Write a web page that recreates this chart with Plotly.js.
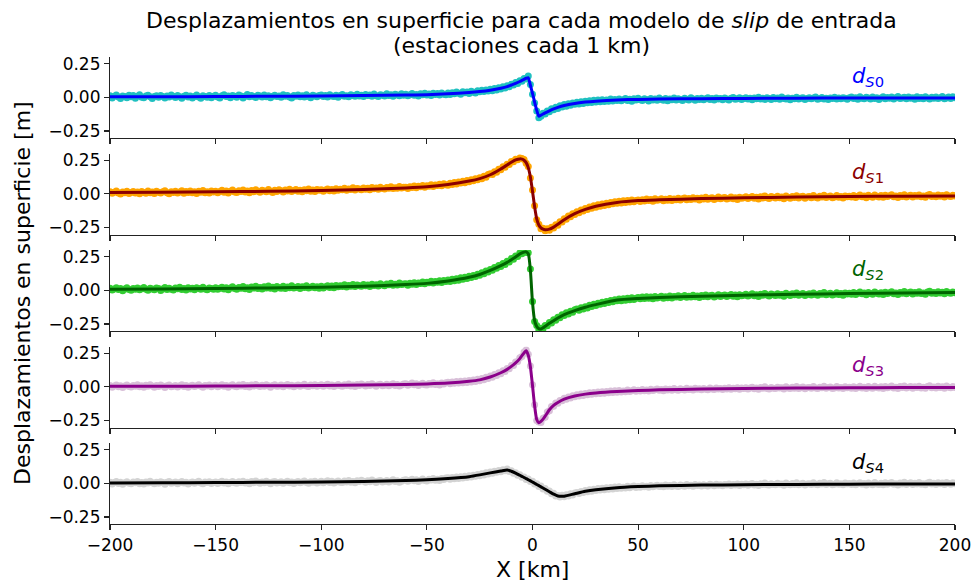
<!DOCTYPE html>
<html>
<head>
<meta charset="utf-8">
<script src="https://cdn.plot.ly/plotly-3.0.1.min.js"></script>
<style>html,body{margin:0;padding:0;background:#fff}#chart{width:977px;height:584px}</style>
</head>
<body>
<div id="chart"></div>
<script>
// Smooth model curves (km, m)
const xLine = [-200,-175,-150,-125,-100,-80,-60,-50,-40,-30,-25,-20,-15,-12,-10,-8,-6,-5,-4,-3,-2,-1,0,1,2,3,4,5,6,8,10,12,15,20,25,30,40,50,60,80,100,125,150,175,200];
const s0Line = [0.004,0.005,0.006,0.008,0.010,0.013,0.017,0.020,0.027,0.036,0.043,0.053,0.068,0.080,0.092,0.104,0.118,0.126,0.134,0.142,0.146,0.090,0.030,-0.035,-0.095,-0.140,-0.132,-0.124,-0.115,-0.100,-0.086,-0.074,-0.060,-0.045,-0.035,-0.028,-0.019,-0.015,-0.012,-0.010,-0.008,-0.006,-0.005,-0.004,-0.004];
const s1Line = [0.010,0.012,0.015,0.019,0.025,0.032,0.044,0.053,0.070,0.095,0.113,0.142,0.185,0.215,0.235,0.252,0.260,0.258,0.250,0.232,0.195,0.125,0.020,-0.095,-0.185,-0.232,-0.252,-0.262,-0.266,-0.262,-0.247,-0.226,-0.192,-0.147,-0.115,-0.092,-0.064,-0.050,-0.044,-0.035,-0.029,-0.024,-0.020,-0.017,-0.015];
const s2Line = [0.008,0.010,0.014,0.018,0.024,0.031,0.043,0.052,0.070,0.097,0.118,0.148,0.184,0.208,0.228,0.248,0.270,0.278,0.284,0.286,0.272,0.150,-0.090,-0.225,-0.268,-0.285,-0.287,-0.278,-0.267,-0.245,-0.225,-0.205,-0.180,-0.150,-0.125,-0.106,-0.072,-0.060,-0.053,-0.043,-0.036,-0.029,-0.024,-0.019,-0.015];
const s3Line = [0.004,0.005,0.006,0.008,0.010,0.013,0.018,0.022,0.028,0.041,0.052,0.073,0.105,0.130,0.152,0.178,0.210,0.232,0.252,0.268,0.235,0.150,0.010,-0.140,-0.243,-0.267,-0.257,-0.240,-0.218,-0.170,-0.138,-0.116,-0.091,-0.068,-0.054,-0.045,-0.034,-0.027,-0.022,-0.016,-0.012,-0.009,-0.007,-0.005,-0.004];
const s4Line = [0.003,0.004,0.006,0.008,0.010,0.014,0.021,0.026,0.036,0.050,0.063,0.078,0.092,0.100,0.090,0.076,0.060,0.052,0.044,0.035,0.027,0.019,0.010,0.001,-0.008,-0.017,-0.026,-0.035,-0.044,-0.062,-0.080,-0.094,-0.095,-0.077,-0.059,-0.047,-0.032,-0.024,-0.018,-0.013,-0.010,-0.008,-0.006,-0.005,-0.004];

// Noisy station observations, one per km from -200 to 200
const s0Obs = [
0.012,-0.004,0.009,0.018,0.002,-0.008,0.011,0.006,-0.002,0.015,
0.004,0.013,-0.006,0.008,0.019,0.001,-0.003,0.010,0.016,0.005,
-0.009,0.007,0.012,0.000,0.014,0.006,-0.005,0.011,0.003,0.017,
0.008,-0.001,0.013,0.004,-0.007,0.009,0.015,0.002,0.010,-0.004,
0.006,0.018,0.003,-0.006,0.012,0.007,0.001,0.014,-0.002,0.009,
0.015,0.003,-0.004,0.012,0.019,0.006,0.010,-0.002,0.014,0.008,
0.001,0.017,0.011,-0.005,0.009,0.021,0.004,0.013,0.007,-0.001,
0.016,0.010,0.002,0.018,0.005,0.012,-0.003,0.009,0.015,0.006,
0.011,0.000,0.020,0.008,0.013,0.003,-0.004,0.014,0.009,0.017,
0.005,0.012,0.002,0.019,0.007,-0.002,0.015,0.010,0.004,0.013,
0.018,0.006,0.013,0.002,0.020,0.011,0.007,0.016,0.001,0.014,
0.022,0.009,0.012,0.004,0.019,0.013,0.008,0.024,0.010,0.015,
0.006,0.021,0.014,0.018,0.009,0.025,0.012,0.007,0.020,0.016,
0.011,0.026,0.014,0.019,0.008,0.023,0.017,0.012,0.027,0.015,
0.024,0.012,0.020,0.029,0.016,0.022,0.011,0.027,0.019,0.031,
0.018,0.025,0.014,0.030,0.022,0.028,0.017,0.033,0.024,0.020,
0.032,0.021,0.035,0.027,0.040,0.030,0.024,0.042,0.034,0.039,
0.029,0.045,0.038,0.033,0.049,0.041,0.052,0.044,0.055,0.047,
0.061,0.050,0.066,0.055,0.072,0.063,0.078,0.070,0.086,0.079,
0.097,0.091,0.110,0.103,0.124,0.119,0.141,0.137,0.158,0.095,
0.024,-0.041,-0.102,-0.151,-0.140,-0.118,-0.124,-0.101,-0.106,-0.085,
-0.092,-0.074,-0.083,-0.062,-0.071,-0.053,-0.066,-0.047,-0.058,-0.041,-0.052,
-0.036,-0.049,-0.033,-0.045,-0.028,-0.040,-0.025,-0.038,-0.022,-0.034,
-0.020,-0.033,-0.017,-0.030,-0.019,-0.028,-0.013,-0.027,-0.015,-0.024,
-0.012,-0.026,-0.017,-0.009,-0.023,-0.014,-0.028,-0.011,-0.020,-0.006,
-0.018,-0.024,-0.010,-0.016,-0.027,-0.008,-0.019,-0.013,-0.022,-0.005,
-0.015,-0.021,-0.009,-0.025,-0.012,-0.017,-0.004,-0.020,-0.011,-0.016,
-0.023,-0.007,-0.014,-0.019,-0.003,-0.012,-0.021,-0.009,-0.015,-0.006,
-0.018,-0.011,-0.002,-0.016,-0.008,-0.020,-0.005,-0.013,-0.009,-0.017,
-0.004,-0.012,-0.019,-0.007,-0.001,-0.014,-0.010,-0.003,-0.016,-0.008,
-0.002,-0.013,-0.006,-0.017,-0.004,-0.010,0.001,-0.012,-0.007,-0.015,
-0.003,-0.009,-0.016,-0.001,-0.011,-0.005,-0.014,0.002,-0.008,-0.012,
-0.004,-0.018,-0.006,-0.010,0.000,-0.013,-0.007,-0.003,-0.015,-0.009,
-0.002,-0.011,-0.005,0.003,-0.014,-0.008,-0.001,-0.012,-0.006,-0.016,
-0.004,-0.009,0.001,-0.013,-0.005,-0.010,-0.002,-0.007,-0.014,-0.003,
0.002,-0.009,-0.003,-0.014,0.004,-0.006,-0.011,0.001,-0.005,-0.012,
0.003,-0.008,-0.002,-0.015,-0.004,0.005,-0.010,-0.001,-0.007,0.002,
-0.013,-0.003,0.006,-0.009,-0.005,0.000,-0.011,0.003,-0.006,-0.002,
-0.014,0.004,-0.008,-0.001,-0.010,0.005,-0.004,-0.012,0.001,-0.007,
0.003,-0.009,-0.002,0.006,-0.011,-0.004,0.002,-0.008,0.004,-0.003];

const s1Obs = [
0.016,0.004,0.012,0.021,0.007,-0.001,0.014,0.009,0.019,0.003,
0.011,0.017,0.006,0.013,0.000,0.018,0.010,0.005,0.022,0.008,
0.014,0.002,0.019,0.012,0.006,0.016,0.023,0.009,0.001,0.015,
0.011,0.020,0.007,0.013,0.024,0.004,0.017,0.010,0.021,0.008,
0.015,0.003,0.019,0.012,0.025,0.009,0.016,0.006,0.022,0.013,
0.020,0.009,0.017,0.026,0.012,0.022,0.006,0.019,0.028,0.014,
0.010,0.024,0.018,0.029,0.013,0.021,0.008,0.025,0.016,0.031,
0.019,0.012,0.027,0.022,0.015,0.033,0.020,0.011,0.026,0.018,
0.030,0.023,0.014,0.028,0.021,0.035,0.017,0.025,0.032,0.019,
0.027,0.015,0.030,0.024,0.036,0.020,0.028,0.017,0.033,0.026,
0.031,0.019,0.028,0.036,0.024,0.033,0.021,0.038,0.027,0.035,
0.030,0.042,0.026,0.037,0.033,0.045,0.029,0.040,0.036,0.031,
0.044,0.035,0.041,0.030,0.047,0.038,0.043,0.034,0.050,0.040,
0.036,0.048,0.042,0.053,0.039,0.046,0.041,0.055,0.044,0.049,
0.050,0.039,0.053,0.047,0.058,0.045,0.056,0.052,0.063,0.050,
0.061,0.057,0.068,0.055,0.066,0.062,0.072,0.060,0.075,0.067,
0.064,0.079,0.070,0.084,0.073,0.089,0.080,0.094,0.083,0.099,
0.090,0.104,0.097,0.112,0.104,0.119,0.112,0.131,0.124,0.143,
0.149,0.144,0.165,0.161,0.183,0.180,0.202,0.198,0.221,0.219,
0.241,0.239,0.258,0.253,0.267,0.262,0.255,0.228,0.203,0.118,
0.028,-0.088,-0.193,-0.226,-0.260,-0.256,-0.274,-0.259,-0.270,-0.248,
-0.253,-0.230,-0.233,-0.207,-0.210,-0.185,-0.189,-0.165,-0.170,-0.148,-0.153,
-0.133,-0.141,-0.120,-0.128,-0.108,-0.117,-0.098,-0.107,-0.089,-0.099,
-0.081,-0.092,-0.075,-0.086,-0.069,-0.080,-0.064,-0.074,-0.059,-0.070,
-0.055,-0.068,-0.052,-0.064,-0.049,-0.061,-0.046,-0.059,-0.050,-0.045,
-0.057,-0.043,-0.053,-0.039,-0.050,-0.042,-0.055,-0.037,-0.048,-0.044,
-0.036,-0.051,-0.040,-0.047,-0.034,-0.049,-0.038,-0.043,-0.032,-0.046,
-0.037,-0.030,-0.044,-0.035,-0.041,-0.028,-0.039,-0.033,-0.045,-0.031,
-0.038,-0.026,-0.040,-0.033,-0.029,-0.042,-0.034,-0.024,-0.037,-0.031,
-0.027,-0.039,-0.032,-0.023,-0.036,-0.028,-0.041,-0.025,-0.033,-0.029,
-0.022,-0.035,-0.027,-0.019,-0.033,-0.025,-0.038,-0.021,-0.030,-0.016,
-0.028,-0.034,-0.020,-0.026,-0.031,-0.018,-0.029,-0.023,-0.036,-0.015,
-0.025,-0.032,-0.019,-0.027,-0.014,-0.030,-0.022,-0.017,-0.033,-0.024,
-0.020,-0.028,-0.013,-0.025,-0.031,-0.018,-0.023,-0.011,-0.027,-0.021,
-0.016,-0.029,-0.024,-0.012,-0.026,-0.019,-0.030,-0.015,-0.022,-0.017,
-0.024,-0.012,-0.027,-0.017,-0.009,-0.022,-0.015,-0.028,-0.011,-0.019,
-0.025,-0.008,-0.018,-0.023,-0.013,-0.026,-0.010,-0.020,-0.014,-0.007,
-0.021,-0.016,-0.027,-0.012,-0.019,-0.006,-0.023,-0.015,-0.010,-0.024,
-0.013,-0.018,-0.008,-0.021,-0.016,-0.025,-0.011,-0.005,-0.019,-0.014,
-0.022,-0.009,-0.017,-0.012,-0.024,-0.007,-0.015,-0.020,-0.010,-0.016];

const s2Obs = [
0.015,0.003,0.010,0.019,0.006,0.013,-0.002,0.011,0.020,0.007,
0.001,0.014,0.009,0.017,0.004,0.012,0.022,0.008,0.000,0.016,
0.010,0.005,0.018,0.013,-0.001,0.011,0.021,0.006,0.015,0.009,
0.003,0.017,0.012,0.024,0.007,0.014,0.002,0.019,0.010,0.016,
0.005,0.020,0.013,0.008,0.023,0.011,0.004,0.018,0.014,0.009,
0.019,0.008,0.016,0.024,0.011,0.020,0.004,0.018,0.027,0.013,
0.009,0.022,0.015,0.029,0.012,0.019,0.006,0.025,0.017,0.030,
0.014,0.021,0.010,0.026,0.018,0.032,0.015,0.023,0.011,0.028,
0.020,0.016,0.031,0.013,0.025,0.019,0.034,0.017,0.022,0.029,
0.014,0.027,0.021,0.035,0.018,0.024,0.031,0.020,0.026,0.016,
0.030,0.018,0.027,0.035,0.022,0.032,0.020,0.037,0.026,0.034,
0.029,0.041,0.025,0.036,0.031,0.044,0.028,0.039,0.034,0.030,
0.043,0.034,0.040,0.029,0.046,0.037,0.042,0.033,0.049,0.039,
0.035,0.047,0.041,0.052,0.038,0.045,0.040,0.054,0.043,0.048,
0.049,0.038,0.052,0.046,0.057,0.044,0.055,0.051,0.062,0.049,
0.060,0.056,0.067,0.054,0.065,0.061,0.071,0.059,0.074,0.066,
0.077,0.066,0.082,0.071,0.087,0.076,0.093,0.082,0.097,0.088,
0.104,0.095,0.111,0.103,0.120,0.112,0.131,0.123,0.143,0.136,
0.155,0.149,0.170,0.164,0.185,0.177,0.199,0.193,0.216,0.211,
0.236,0.232,0.256,0.252,0.278,0.272,0.292,0.281,0.279,0.158,
-0.082,-0.232,-0.261,-0.291,-0.282,-0.285,-0.262,-0.263,-0.239,-0.242,
-0.218,-0.222,-0.199,-0.204,-0.181,-0.187,-0.167,-0.175,-0.155,-0.163,-0.144,
-0.138,-0.147,-0.129,-0.138,-0.121,-0.131,-0.111,-0.120,-0.103,-0.113,
-0.096,-0.104,-0.088,-0.097,-0.082,-0.091,-0.076,-0.085,-0.069,-0.078,
-0.065,-0.078,-0.062,-0.073,-0.059,-0.070,-0.055,-0.067,-0.058,-0.053,
-0.063,-0.050,-0.060,-0.047,-0.058,-0.049,-0.062,-0.045,-0.056,-0.051,
-0.044,-0.058,-0.048,-0.054,-0.042,-0.056,-0.045,-0.050,-0.040,-0.053,
-0.045,-0.038,-0.052,-0.043,-0.049,-0.036,-0.047,-0.041,-0.053,-0.039,
-0.046,-0.034,-0.048,-0.040,-0.037,-0.050,-0.042,-0.032,-0.045,-0.038,
-0.034,-0.046,-0.039,-0.030,-0.043,-0.035,-0.048,-0.032,-0.040,-0.036,
-0.029,-0.042,-0.034,-0.026,-0.040,-0.032,-0.045,-0.028,-0.037,-0.023,
-0.035,-0.041,-0.027,-0.033,-0.038,-0.025,-0.036,-0.030,-0.043,-0.022,
-0.031,-0.038,-0.025,-0.033,-0.020,-0.036,-0.028,-0.023,-0.039,-0.030,
-0.025,-0.034,-0.019,-0.031,-0.037,-0.023,-0.029,-0.016,-0.033,-0.027,
-0.021,-0.035,-0.029,-0.017,-0.031,-0.024,-0.036,-0.020,-0.027,-0.022,
-0.028,-0.016,-0.031,-0.021,-0.013,-0.026,-0.019,-0.032,-0.015,-0.023,
-0.029,-0.012,-0.022,-0.027,-0.017,-0.030,-0.014,-0.024,-0.018,-0.010,
-0.025,-0.020,-0.031,-0.015,-0.022,-0.009,-0.026,-0.018,-0.013,-0.027,
-0.016,-0.021,-0.010,-0.024,-0.019,-0.028,-0.013,-0.007,-0.021,-0.016,
-0.024,-0.011,-0.019,-0.014,-0.026,-0.008,-0.017,-0.022,-0.012,-0.018];

const s3Obs = [
0.010,-0.002,0.007,0.014,0.001,0.009,-0.004,0.006,0.013,0.003,
-0.001,0.011,0.005,0.015,0.000,0.008,-0.003,0.012,0.004,0.016,
0.006,-0.002,0.010,0.002,0.013,0.007,-0.005,0.009,0.014,0.001,
0.005,0.011,-0.001,0.008,0.015,0.003,0.010,-0.003,0.006,0.012,
0.002,0.009,0.016,0.004,-0.002,0.011,0.007,0.013,0.000,0.008,
0.012,0.000,0.009,0.016,0.004,0.011,-0.002,0.008,0.015,0.005,
0.001,0.013,0.007,0.017,0.003,0.010,-0.001,0.014,0.006,0.018,
0.009,0.002,0.012,0.005,0.016,0.008,-0.002,0.011,0.015,0.004,
0.007,0.013,0.001,0.010,0.017,0.006,0.012,0.000,0.009,0.014,
0.005,0.011,0.019,0.007,0.002,0.013,0.009,0.016,0.004,0.010,
0.016,0.004,0.012,0.019,0.007,0.014,0.002,0.011,0.018,0.008,
0.005,0.016,0.010,0.021,0.006,0.013,0.003,0.017,0.011,0.022,
0.013,0.007,0.018,0.010,0.023,0.014,0.005,0.016,0.020,0.009,
0.012,0.019,0.008,0.015,0.024,0.011,0.017,0.006,0.014,0.021,
0.024,0.012,0.020,0.028,0.015,0.023,0.010,0.019,0.027,0.016,
0.013,0.025,0.020,0.030,0.017,0.024,0.014,0.029,0.022,0.031,
0.034,0.023,0.036,0.026,0.039,0.028,0.041,0.031,0.043,0.033,
0.047,0.037,0.051,0.040,0.056,0.045,0.062,0.053,0.071,0.062,
0.080,0.072,0.091,0.085,0.104,0.098,0.119,0.114,0.137,0.134,
0.159,0.158,0.185,0.188,0.217,0.226,0.259,0.274,0.242,0.156,
0.016,-0.133,-0.250,-0.261,-0.264,-0.233,-0.225,-0.186,-0.177,-0.145,
-0.144,-0.119,-0.122,-0.101,-0.104,-0.085,-0.092,-0.075,-0.082,-0.066,-0.074,
-0.059,-0.068,-0.053,-0.064,-0.049,-0.058,-0.044,-0.054,-0.041,-0.051,
-0.038,-0.049,-0.036,-0.047,-0.034,-0.044,-0.031,-0.042,-0.029,-0.040,
-0.027,-0.039,-0.030,-0.036,-0.024,-0.034,-0.028,-0.021,-0.033,-0.025,
-0.030,-0.019,-0.028,-0.024,-0.031,-0.017,-0.027,-0.022,-0.016,-0.026,
-0.020,-0.028,-0.015,-0.023,-0.018,-0.026,-0.013,-0.021,-0.025,-0.014,
-0.019,-0.024,-0.011,-0.020,-0.016,-0.023,-0.010,-0.018,-0.014,-0.021,
-0.012,-0.017,-0.022,-0.009,-0.015,-0.019,-0.008,-0.016,-0.012,-0.020,
-0.010,-0.015,-0.006,-0.017,-0.011,-0.014,-0.007,-0.018,-0.009,-0.013,
-0.006,-0.016,-0.009,-0.003,-0.014,-0.008,-0.018,-0.005,-0.011,0.000,
-0.012,-0.015,-0.004,-0.010,-0.013,-0.002,-0.009,-0.006,-0.016,0.001,
-0.008,-0.012,-0.003,-0.010,0.002,-0.013,-0.006,-0.001,-0.014,-0.007,
-0.004,-0.011,0.003,-0.009,-0.013,-0.002,-0.007,0.004,-0.010,-0.005,
-0.001,-0.012,-0.008,0.003,-0.009,-0.004,-0.013,0.000,-0.006,-0.003,
-0.010,0.001,-0.012,-0.004,0.004,-0.008,-0.002,-0.013,0.002,-0.006,
-0.011,0.005,-0.005,-0.009,0.000,-0.012,0.003,-0.007,-0.001,0.006,
-0.008,-0.003,-0.013,0.002,-0.005,0.007,-0.009,-0.002,0.003,-0.010,
0.000,-0.005,0.005,-0.008,-0.003,-0.011,0.002,0.008,-0.006,-0.001,
-0.009,0.004,-0.004,0.001,-0.010,0.006,-0.002,-0.007,0.003,-0.004];

const s4Obs = [
0.009,-0.004,0.006,0.013,-0.001,0.008,-0.006,0.005,0.012,0.001,
-0.003,0.010,0.004,0.014,-0.002,0.007,-0.005,0.011,0.003,0.015,
0.005,-0.003,0.009,0.001,0.012,0.006,-0.006,0.008,0.013,0.000,
0.004,0.010,-0.002,0.007,0.014,0.002,0.009,-0.004,0.005,0.011,
0.001,0.008,0.015,0.003,-0.003,0.010,0.006,0.012,-0.001,0.007,
0.011,-0.001,0.008,0.015,0.003,0.010,-0.003,0.007,0.014,0.004,
0.000,0.012,0.006,0.016,0.002,0.009,-0.002,0.013,0.005,0.017,
0.008,0.001,0.011,0.004,0.015,0.007,-0.003,0.010,0.014,0.003,
0.006,0.012,0.000,0.009,0.016,0.005,0.011,-0.001,0.008,0.013,
0.004,0.010,0.018,0.006,0.001,0.012,0.008,0.015,0.003,0.009,
0.016,0.004,0.012,0.019,0.007,0.015,0.002,0.011,0.018,0.009,
0.006,0.017,0.011,0.022,0.008,0.014,0.004,0.019,0.013,0.024,
0.015,0.009,0.020,0.012,0.025,0.016,0.007,0.018,0.022,0.011,
0.014,0.021,0.010,0.017,0.026,0.013,0.019,0.008,0.016,0.023,
0.027,0.015,0.024,0.031,0.019,0.027,0.014,0.023,0.032,0.021,
0.018,0.031,0.025,0.036,0.023,0.030,0.021,0.037,0.029,0.040,
0.042,0.031,0.044,0.034,0.047,0.037,0.050,0.040,0.053,0.043,
0.056,0.047,0.061,0.052,0.066,0.057,0.072,0.063,0.078,0.069,
0.084,0.076,0.090,0.082,0.096,0.087,0.101,0.093,0.106,0.089,
0.093,0.075,0.079,0.061,0.064,0.045,0.048,0.029,0.032,0.013,
0.016,-0.005,-0.002,-0.023,-0.020,-0.041,-0.038,-0.059,-0.056,-0.077,
-0.074,-0.094,-0.090,-0.102,-0.089,-0.099,-0.084,-0.093,-0.078,-0.086,-0.071,
-0.067,-0.076,-0.060,-0.068,-0.053,-0.063,-0.048,-0.058,-0.043,-0.053,
-0.039,-0.050,-0.036,-0.047,-0.033,-0.044,-0.030,-0.041,-0.027,-0.038,
-0.025,-0.037,-0.028,-0.034,-0.022,-0.032,-0.026,-0.019,-0.031,-0.023,
-0.028,-0.017,-0.026,-0.022,-0.029,-0.015,-0.025,-0.020,-0.014,-0.024,
-0.018,-0.026,-0.013,-0.021,-0.016,-0.024,-0.011,-0.019,-0.023,-0.012,
-0.017,-0.022,-0.009,-0.018,-0.014,-0.021,-0.008,-0.016,-0.012,-0.019,
-0.010,-0.015,-0.020,-0.007,-0.013,-0.017,-0.006,-0.014,-0.010,-0.018,
-0.008,-0.013,-0.004,-0.015,-0.009,-0.012,-0.005,-0.016,-0.007,-0.011,
-0.004,-0.014,-0.007,-0.001,-0.012,-0.006,-0.016,-0.003,-0.009,0.002,
-0.010,-0.013,-0.002,-0.008,-0.011,0.000,-0.007,-0.004,-0.014,0.003,
-0.006,-0.010,-0.001,-0.008,0.004,-0.011,-0.004,0.001,-0.012,-0.005,
-0.002,-0.009,0.005,-0.007,-0.011,0.000,-0.005,0.006,-0.008,-0.003,
0.001,-0.010,-0.006,0.005,-0.007,-0.002,-0.011,0.002,-0.004,-0.001,
-0.009,0.002,-0.011,-0.003,0.005,-0.007,-0.001,-0.012,0.003,-0.005,
-0.010,0.006,-0.004,-0.008,0.001,-0.011,0.004,-0.006,0.000,0.007,
-0.007,-0.002,-0.012,0.003,-0.004,0.008,-0.008,-0.001,0.004,-0.009,
0.001,-0.004,0.006,-0.007,-0.002,-0.010,0.003,0.009,-0.005,0.000,
-0.008,0.005,-0.003,0.002,-0.009,0.007,-0.001,-0.006,0.004,-0.003];

const subIdx = ['0','1','2','3','4'];
const obsColors = ['#1fc0c0','#ffa500','#32cd32','#d8bfd8','#d3d3d3'];
const lineColors = ['#0000ff','#8b0000','#006400','#8b008b','#000000'];
const xTicks = [-200,-150,-100,-50,0,50,100,150,200];
const yTicks = [-0.25,0,0.25];
const titleLines = ['Desplazamientos en superficie para cada modelo de <i>slip</i> de entrada', '(estaciones cada 1 km)'];

const xObs = [];
for (let k = -200; k <= 200; k++) xObs.push(k);

const obsList = [s0Obs,s1Obs,s2Obs,s3Obs,s4Obs];
const lineList = [s0Line,s1Line,s2Line,s3Line,s4Line];

const FONT = 'DejaVu Sans, Liberation Sans, sans-serif';
const W = 977, H = 584, mL = 110, mR = 22, mT = 57, mB = 60;
const plotH = H - mT - mB, plotW = W - mL - mR;
const subH = 81, gap = (plotH - 5*subH)/4;

const traces = [];
const layout = {
  width: W, height: H,
  margin: {l: mL, r: mR, t: mT, b: mB, pad: 0},
  paper_bgcolor: '#fff', plot_bgcolor: '#fff',
  showlegend: false,
  font: {family: FONT, size: 17, color: '#000'},
  annotations: []
};

for (let i = 0; i < 5; i++) {
  const sfx = i === 0 ? '' : String(i+1);
  const xa = 'x' + sfx, ya = 'y' + sfx;
  traces.push({
    x: xObs, y: obsList[i], xaxis: xa, yaxis: ya, type: 'scatter', mode: 'markers',
    marker: {color: obsColors[i], size: 7, line: {width: 0}}, hoverinfo: 'skip'
  });
  traces.push({
    x: xLine, y: lineList[i], xaxis: xa, yaxis: ya, type: 'scatter', mode: 'lines',
    line: {color: lineColors[i], width: 3, shape: 'spline', smoothing: 0.6}, hoverinfo: 'skip'
  });
  const topPx = i*(subH+gap);
  const d1 = 1 - topPx/plotH;
  const d0 = d1 - subH/plotH;
  layout['xaxis' + sfx] = {
    domain: [0,1], anchor: ya, range: [-200,200],
    tickmode: 'array', tickvals: xTicks, ticks: 'outside', ticklen: 5, tickwidth: 1.1, tickcolor: '#222',
    showticklabels: i === 4, tickfont: {family: FONT, size: 17, color: '#000'},
    showline: true, linecolor: '#222', linewidth: 1.1, mirror: false,
    showgrid: false, zeroline: false, fixedrange: true
  };
  if (i > 0) layout['xaxis' + sfx].matches = 'x';
  layout['yaxis' + sfx] = {
    domain: [Math.max(0,d0), Math.min(1,d1)], anchor: xa, range: [-0.302,0.300],
    tickmode: 'array', tickvals: yTicks, tickformat: '.2f',
    ticks: 'outside', ticklen: 5, tickwidth: 1.1, tickcolor: '#222',
    tickfont: {family: FONT, size: 17, color: '#000'},
    showline: true, linecolor: '#222', linewidth: 1.1, mirror: false,
    showgrid: false, zeroline: false, fixedrange: true
  };
  layout.annotations.push({
    xref: xa, yref: ya, x: 159, y: 0.155, xanchor: 'center', yanchor: 'middle',
    text: '<i>d</i><sub><i>S</i>' + subIdx[i] + '</sub>', showarrow: false,
    font: {family: FONT, size: 21, color: lineColors[i]}
  });
}

// Title (two lines, placed separately)
const titleCenters = [20, 45];
titleLines.forEach((t, k) => {
  layout.annotations.push({
    xref: 'paper', yref: 'paper', x: (521 - mL) / plotW, y: (H - mB - titleCenters[k]) / plotH,
    xanchor: 'center', yanchor: 'middle', showarrow: false,
    text: t, font: {family: FONT, size: 22, color: '#000'}
  });
});
layout.annotations.push({
  xref: 'paper', yref: 'paper', x: 0.5, y: -(569 - (H - mB)) / plotH,
  xanchor: 'center', yanchor: 'middle', showarrow: false,
  text: 'X [km]', font: {family: FONT, size: 22, color: '#000'}
});
layout.annotations.push({
  xref: 'paper', yref: 'paper', x: (22 - mL) / plotW, y: (H - mB - 293) / plotH,
  xanchor: 'center', yanchor: 'middle', showarrow: false, textangle: -90,
  text: 'Desplazamientos en superficie [m]', font: {family: FONT, size: 22, color: '#000'}
});

Plotly.newPlot('chart', traces, layout, {displayModeBar: false, staticPlot: true});
</script>
</body>
</html>
